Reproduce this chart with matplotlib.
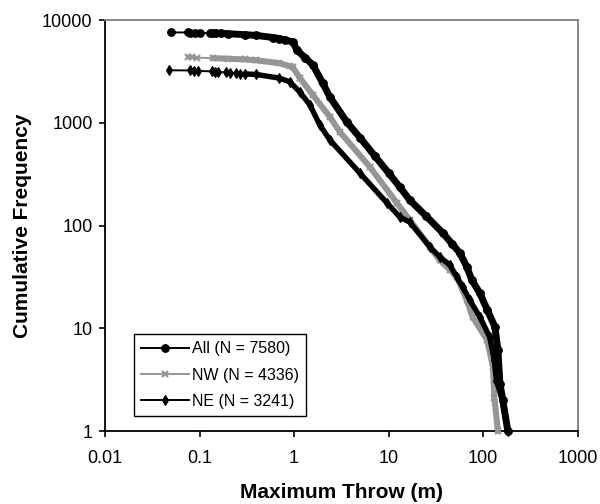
import numpy as np
import matplotlib
matplotlib.use("Agg")
import matplotlib.pyplot as plt
from matplotlib.ticker import FixedLocator, FixedFormatter, NullLocator

plt.rcParams['font.family'] = ['Liberation Sans', 'DejaVu Sans']

# ---------------- data ----------------
all_x = [0.05, 0.075, 0.08, 0.09, 0.1, 0.13, 0.14, 0.15, 0.17, 0.2, 0.3, 0.4,
         0.6, 0.7, 0.8, 0.97, 1.07, 1.3, 1.58, 2.0, 2.39, 3.61, 5.0, 7.15, 10.0,
         13.1, 16.7, 25.0, 37.4, 47.0, 56.6, 67.1, 75.7, 92.0, 110, 133, 143,
         150, 161, 182]
all_y = [7580, 7560, 7550, 7530, 7500, 7460, 7440, 7420, 7400, 7350, 7200, 7080,
         6750, 6600, 6400, 6110, 5100, 4310, 3650, 2440, 1780, 1017, 711, 474, 324,
         237, 177, 123, 84.5, 66, 54, 39.5, 29.5, 22, 15.2, 10.3, 6.1,
         2.9, 2.0, 1]

nw_x = [0.075, 0.083, 0.094, 0.14, 0.2, 0.3, 0.4, 0.7, 0.9, 0.97, 1.15, 1.58,
        2.39, 3.05, 6.33, 12.2, 16.7, 27.3, 34.7, 44.4, 52.6, 67, 77, 110, 127,
        131, 143]
nw_y = [4336, 4320, 4300, 4250, 4200, 4130, 4050, 3800, 3550, 3450, 2730, 1862,
        1138, 813, 371, 166, 113, 61.8, 46, 37, 31.5, 18.8, 12.9, 7.7, 4.2,
        2.1, 1]

ne_x = [0.048, 0.079, 0.087, 0.096, 0.135, 0.145, 0.156, 0.19, 0.21, 0.24, 0.27,
        0.3, 0.4, 0.7, 0.9, 1.15, 1.47, 1.87, 2.39, 4.96, 9.57, 13.1, 16.7, 27.3,
        34.7, 44.4, 52.6, 61, 72.1, 92, 117, 131, 138, 157, 182]
ne_y = [3241, 3230, 3215, 3200, 3160, 3140, 3120, 3090, 3070, 3040, 3010,
        2990, 2950, 2720, 2500, 1990, 1489, 951, 679, 324, 166, 121, 108, 61.8,
        49.4, 41.3, 31.5, 25, 18.8, 12.9, 8.2, 4.9, 3.1, 2.1, 1]

series_labels = ["All (N = 7580)", "NW (N = 4336)", "NE (N = 3241)"]

x_ticks = [0.01, 0.1, 1, 10, 100, 1000]
x_tick_labels = ["0.01", "0.1", "1", "10", "100", "1000"]
y_ticks = [1, 10, 100, 1000, 10000]
y_tick_labels = ["1", "10", "100", "1000", "10000"]

x_label = "Maximum Throw (m)"
y_label = "Cumulative Frequency"

# ---------------- figure ----------------
fig = plt.figure(figsize=(6.0, 5.04), dpi=100)
ax = fig.add_axes([0.175, 0.1448, 0.788, 0.8155])
ax.set_xscale('log')
ax.set_yscale('log')

gray = '#969696'
styles = [
    dict(x=all_x, y=all_y, color='black', marker='o', ms=5.5, mew=0.8, band=5.0, dense_from=0.13, mfc='black'),
    dict(x=nw_x, y=nw_y, color=gray, marker='x', ms=4.5, mew=1.6, band=4.4, dense_from=0.14, mfc=gray),
    dict(x=ne_x, y=ne_y, color='black', marker='d', ms=5.0, mew=0.8, band=3.9, dense_from=0.3, mfc='black'),
]

handles = []
for i, (s, lab) in enumerate(zip(styles, series_labels)):
    x = np.asarray(s['x'], float)
    y = np.asarray(s['y'], float)
    m = x >= s['dense_from']
    ax.plot(x[m], y[m], color=s['color'], lw=s['band'], solid_capstyle='round',
            solid_joinstyle='round', zorder=2 + 2 * i, clip_on=False)
    h, = ax.plot(x, y, color=s['color'], lw=1.4, marker=s['marker'], ms=s['ms'],
                 mew=s['mew'], mfc=s['mfc'], mec=s['color'], zorder=3 + 2 * i,
                 clip_on=False, label=lab)
    handles.append(h)

ax.set_xlim(0.01, 1000)
ax.set_ylim(1, 10000)

ax.xaxis.set_major_locator(FixedLocator(x_ticks))
ax.xaxis.set_major_formatter(FixedFormatter(x_tick_labels))
ax.yaxis.set_major_locator(FixedLocator(y_ticks))
ax.yaxis.set_major_formatter(FixedFormatter(y_tick_labels))
ax.xaxis.set_minor_locator(NullLocator())
ax.yaxis.set_minor_locator(NullLocator())

ax.tick_params(axis='both', which='major', direction='out', length=4, width=1.2,
               labelsize=13, colors='black')
ax.tick_params(axis='x', pad=9.5)
ax.tick_params(axis='y', pad=5)

for side in ['left', 'bottom']:
    ax.spines[side].set_color('black')
    ax.spines[side].set_linewidth(1.3)
for side in ['top', 'right']:
    ax.spines[side].set_color('#808080')
    ax.spines[side].set_linewidth(1.3)

ax.set_xlabel(x_label, fontsize=15, fontweight='bold', labelpad=12)
ax.set_ylabel(y_label, fontsize=15, fontweight='bold', labelpad=7)

leg = ax.legend(handles=handles, loc='lower left', bbox_to_anchor=(0.061, 0.0365),
                borderaxespad=0, fontsize=11.5, handlelength=3.0, handletextpad=0.2,
                labelspacing=0.7, borderpad=0.45, fancybox=False, framealpha=1,
                edgecolor='black')
leg.get_frame().set_linewidth(1.0)

fig.savefig('out.png', dpi=100)
